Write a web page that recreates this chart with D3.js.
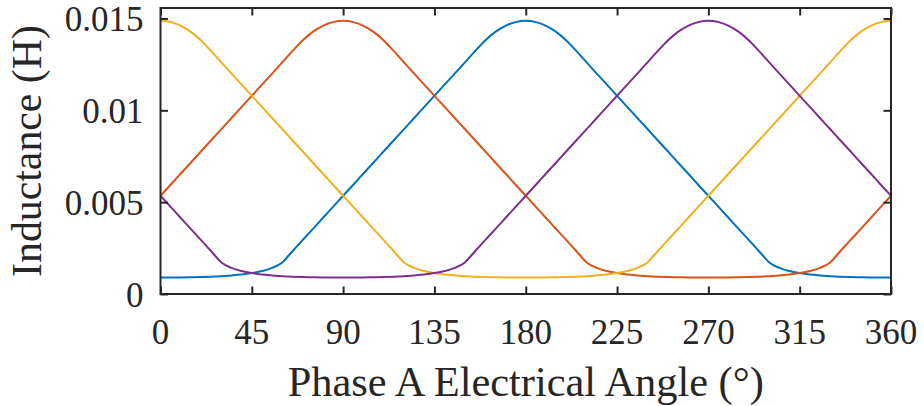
<!DOCTYPE html>
<html>
<head>
<meta charset="utf-8">
<script src="https://cdn.jsdelivr.net/npm/d3@7"></script>
<style>
  html, body { margin: 0; padding: 0; background: #fff; }
  svg { display: block; }
  text { font-family: "Liberation Serif", "Times New Roman", Times, serif; fill: #262626; }
</style>
</head>
<body>
<svg id="chart" width="924" height="406"></svg>
<script>
// Rotor angle samples (electrical degrees)
const angles = d3.range(0, 361, 5);

// Axis ticks
const xTicks = [0, 45, 90, 135, 180, 225, 270, 315, 360];
const yTicks = [0, 0.005, 0.01, 0.015];
const yTickLabels = ["0", "0.005", "0.01", "0.015"];

// Phase inductance (H) at each sample angle
const phaseA = [0.00090,0.00090,0.00090,0.00091,0.00092,0.00094,0.00097,0.00101,0.00106,0.00114,0.00125,0.00142,0.00172,0.00233,0.00293,0.00353,0.00414,0.00474,0.00535,0.00595,0.00656,0.00716,0.00777,0.00837,0.00898,0.00958,0.01019,0.01079,0.01140,0.01200,0.01261,0.01322,0.01380,0.01427,0.01460,0.01480,0.01487,0.01480,0.01460,0.01427,0.01380,0.01322,0.01261,0.01200,0.01140,0.01079,0.01019,0.00958,0.00898,0.00837,0.00777,0.00716,0.00656,0.00595,0.00535,0.00474,0.00414,0.00353,0.00293,0.00233,0.00172,0.00142,0.00125,0.00114,0.00106,0.00101,0.00097,0.00094,0.00092,0.00091,0.00090,0.00090,0.00090];
const phaseB = [0.00535,0.00595,0.00656,0.00716,0.00777,0.00837,0.00898,0.00958,0.01019,0.01079,0.01140,0.01200,0.01261,0.01322,0.01380,0.01427,0.01460,0.01480,0.01487,0.01480,0.01460,0.01427,0.01380,0.01322,0.01261,0.01200,0.01140,0.01079,0.01019,0.00958,0.00898,0.00837,0.00777,0.00716,0.00656,0.00595,0.00535,0.00474,0.00414,0.00353,0.00293,0.00233,0.00172,0.00142,0.00125,0.00114,0.00106,0.00101,0.00097,0.00094,0.00092,0.00091,0.00090,0.00090,0.00090,0.00090,0.00090,0.00091,0.00092,0.00094,0.00097,0.00101,0.00106,0.00114,0.00125,0.00142,0.00172,0.00233,0.00293,0.00353,0.00414,0.00474,0.00535];
const phaseC = [0.01487,0.01480,0.01460,0.01427,0.01380,0.01322,0.01261,0.01200,0.01140,0.01079,0.01019,0.00958,0.00898,0.00837,0.00777,0.00716,0.00656,0.00595,0.00535,0.00474,0.00414,0.00353,0.00293,0.00233,0.00172,0.00142,0.00125,0.00114,0.00106,0.00101,0.00097,0.00094,0.00092,0.00091,0.00090,0.00090,0.00090,0.00090,0.00090,0.00091,0.00092,0.00094,0.00097,0.00101,0.00106,0.00114,0.00125,0.00142,0.00172,0.00233,0.00293,0.00353,0.00414,0.00474,0.00535,0.00595,0.00656,0.00716,0.00777,0.00837,0.00898,0.00958,0.01019,0.01079,0.01140,0.01200,0.01261,0.01322,0.01380,0.01427,0.01460,0.01480,0.01487];
const phaseD = [0.00535,0.00474,0.00414,0.00353,0.00293,0.00233,0.00172,0.00142,0.00125,0.00114,0.00106,0.00101,0.00097,0.00094,0.00092,0.00091,0.00090,0.00090,0.00090,0.00090,0.00090,0.00091,0.00092,0.00094,0.00097,0.00101,0.00106,0.00114,0.00125,0.00142,0.00172,0.00233,0.00293,0.00353,0.00414,0.00474,0.00535,0.00595,0.00656,0.00716,0.00777,0.00837,0.00898,0.00958,0.01019,0.01079,0.01140,0.01200,0.01261,0.01322,0.01380,0.01427,0.01460,0.01480,0.01487,0.01480,0.01460,0.01427,0.01380,0.01322,0.01261,0.01200,0.01140,0.01079,0.01019,0.00958,0.00898,0.00837,0.00777,0.00716,0.00656,0.00595,0.00535];

const seriesValues = [phaseA, phaseB, phaseC, phaseD];
const seriesColors = ["#0072BD", "#D95319", "#EDB120", "#7E2F8E"];

const margin = { left: 160.5, right: 33, top: 8, bottom: 112 };
const W = 924, H = 406;
const plotW = W - margin.left - margin.right;
const plotH = H - margin.top - margin.bottom;

const svg = d3.select("#chart");
const g = svg.append("g").attr("transform", `translate(${margin.left},${margin.top})`);

const x = d3.scaleLinear().domain([0, 360]).range([0, plotW]);
const y = d3.scaleLinear().domain([0, 0.01557]).range([plotH, 0]);

g.append("clipPath").attr("id", "plot-clip")
  .append("rect").attr("x", 0).attr("y", 0).attr("width", plotW).attr("height", plotH);

// Inductance curves
const line = d3.line()
  .x((d, i) => x(angles[i]))
  .y(d => y(d))
  .curve(d3.curveMonotoneX);

g.append("g").attr("clip-path", "url(#plot-clip)")
  .selectAll("path")
  .data(seriesValues)
  .join("path")
  .attr("fill", "none")
  .attr("stroke", (d, i) => seriesColors[i])
  .attr("stroke-width", 2)
  .attr("stroke-linejoin", "round")
  .attr("d", line);

// Axes: ticks point inward on all four sides
const tickLen = 7.5;
const axisColor = "#262626";

const axisBottomG = g.append("g").attr("transform", `translate(0,${plotH})`)
  .call(d3.axisBottom(x).tickValues(xTicks).tickSize(-tickLen).tickFormat(""));
const axisTopG = g.append("g")
  .call(d3.axisTop(x).tickValues(xTicks).tickSize(-tickLen).tickFormat(""));
const axisLeftG = g.append("g")
  .call(d3.axisLeft(y).tickValues(yTicks).tickSize(-tickLen).tickFormat(""));
const axisRightG = g.append("g").attr("transform", `translate(${plotW},0)`)
  .call(d3.axisRight(y).tickValues(yTicks).tickSize(-tickLen).tickFormat(""));

[axisBottomG, axisTopG, axisLeftG, axisRightG].forEach(a => {
  a.select(".domain").remove();
  a.selectAll(".tick line").attr("stroke", axisColor).attr("stroke-width", 2);
});

// Box outline
g.append("rect")
  .attr("x", 0).attr("y", 0).attr("width", plotW).attr("height", plotH)
  .attr("fill", "none").attr("stroke", axisColor).attr("stroke-width", 2);

// Tick labels
g.append("g").selectAll("text")
  .data(xTicks).join("text")
  .attr("x", d => x(d))
  .attr("y", plotH + 50)
  .attr("text-anchor", "middle")
  .attr("font-size", 35)
  .text(d => String(d));

g.append("g").selectAll("text")
  .data(yTicks).join("text")
  .attr("x", -17)
  .attr("y", d => y(d) + 13)
  .attr("text-anchor", "end")
  .attr("font-size", 35)
  .text((d, i) => yTickLabels[i]);

// Axis titles
svg.append("text")
  .attr("x", margin.left + plotW / 2)
  .attr("y", 396)
  .attr("text-anchor", "middle")
  .attr("font-size", 42.4)
  .text("Phase A Electrical Angle (°)");

svg.append("text")
  .attr("transform", `translate(41,${margin.top + plotH / 2}) rotate(-90)`)
  .attr("text-anchor", "middle")
  .attr("font-size", 41.8)
  .text("Inductance (H)");
</script>
</body>
</html>
